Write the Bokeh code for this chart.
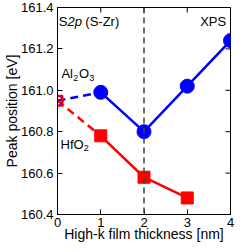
import math
from bokeh.plotting import figure
from bokeh.models import FixedTicker, Span, Label, Range1d, NumeralTickFormatter
from bokeh.embed import file_html
from bokeh.resources import INLINE

# data
thickness = [0, 1, 2, 3, 4]
al2o3 = [160.95, 160.99, 160.80, 161.02, 161.24]
hf_thickness = [0, 1, 2, 3]
hfo2 = [160.95, 160.78, 160.58, 160.48]
x_ticks = [0, 1, 2, 3, 4]
y_ticks = [160.4, 160.6, 160.8, 161.0, 161.2, 161.4]

FONT = "Liberation Sans"
BLUE = "#0000FF"
RED = "#FF0000"

p = figure(width=237, height=244, output_backend="svg", toolbar_location=None,
           x_range=Range1d(0, 4), y_range=Range1d(160.4, 161.4),
           min_border_left=0, min_border_right=7, min_border_top=7, min_border_bottom=0)
p.grid.visible = False
p.outline_line_color = "black"
p.outline_line_width = 1
p.background_fill_color = "white"
p.border_fill_color = "white"

p.xaxis.axis_label = "High-k film thickness [nm]"
p.yaxis.axis_label = "Peak position [eV]"
for ax in [p.xaxis[0], p.yaxis[0]]:
    ax.major_tick_in = 5
    ax.major_tick_out = 0
    ax.minor_tick_line_color = None
    ax.major_label_text_font = FONT
    ax.major_label_text_font_size = "13px"
    ax.major_label_text_color = "black"
    ax.axis_label_text_font = FONT
    ax.axis_label_text_font_size = "14px"
    ax.axis_label_text_font_style = "normal"
    ax.axis_label_text_color = "black"
    ax.axis_line_color = "black"
    ax.major_tick_line_color = "black"
p.xaxis.ticker = FixedTicker(ticks=x_ticks)
p.yaxis.ticker = FixedTicker(ticks=y_ticks)
p.yaxis.formatter = NumeralTickFormatter(format="0.0")
p.xaxis.major_label_standoff = 3
p.yaxis.major_label_standoff = 4
p.xaxis.axis_label_standoff = -4
p.yaxis.axis_label_standoff = -2

# inward ticks on the right and top edges
p.ray(x=[4] * len(y_ticks), y=y_ticks, length=5, length_units="screen",
      angle=math.pi, line_color="black", line_width=1)
p.ray(x=x_ticks, y=[161.4] * len(x_ticks), length=5, length_units="screen",
      angle=-math.pi / 2, line_color="black", line_width=1)

p.add_layout(Span(location=2, dimension="height", line_color="#404040",
                  line_width=1.5, line_dash="6 4"))

# dashed connectors from the bare substrate
p.line(thickness[:2], al2o3[:2], line_color=BLUE, line_width=2.5, line_dash="8 5")
p.line(hf_thickness[:2], hfo2[:2], line_color=RED, line_width=2.5, line_dash="8 5")
# solid
p.line(hf_thickness[1:], hfo2[1:], line_color=RED, line_width=2.5)
p.line(thickness[1:], al2o3[1:], line_color=BLUE, line_width=2.5)

p.scatter(hf_thickness[1:], hfo2[1:], marker="square", size=12, fill_color=RED, line_color=RED)
p.scatter(thickness[1:], al2o3[1:], marker="circle", size=14, fill_color=BLUE, line_color=BLUE)
p.scatter(thickness[:1], al2o3[:1], marker="circle", size=10, fill_color=None, line_color=BLUE, line_width=2)
p.scatter(hf_thickness[:1], hfo2[:1], marker="square", size=10, fill_color=None, line_color=RED, line_width=2)

def lab(x, y, t, xo=0, yo=0, size="13px", style="normal", align="left"):
    p.add_layout(Label(x=x, y=y, text=t, x_offset=xo, y_offset=yo, text_font=FONT,
                       text_font_size=size, text_font_style=style, text_align=align,
                       text_baseline="alphabetic", text_color="black"))

# S2p (S-Zr)
lab(0.03, 161.33, "S")
lab(0.03, 161.33, "2p", xo=8.7, style="italic")
lab(0.03, 161.33, "(S-Zr)", xo=26.5)
# XPS
lab(3.9, 161.33, "XPS", align="right")
# Al2O3
lab(0.09, 161.08, "Al")
lab(0.09, 161.08, "2", xo=11.8, yo=-4, size="9px")
lab(0.09, 161.08, "O", xo=17.5)
lab(0.09, 161.08, "3", xo=27.8, yo=-4, size="9px")
# HfO2
lab(0.07, 160.74, "HfO")
lab(0.07, 160.74, "2", xo=23.3, yo=-4, size="9px")

open("out.html", "w").write(file_html(p, INLINE))
